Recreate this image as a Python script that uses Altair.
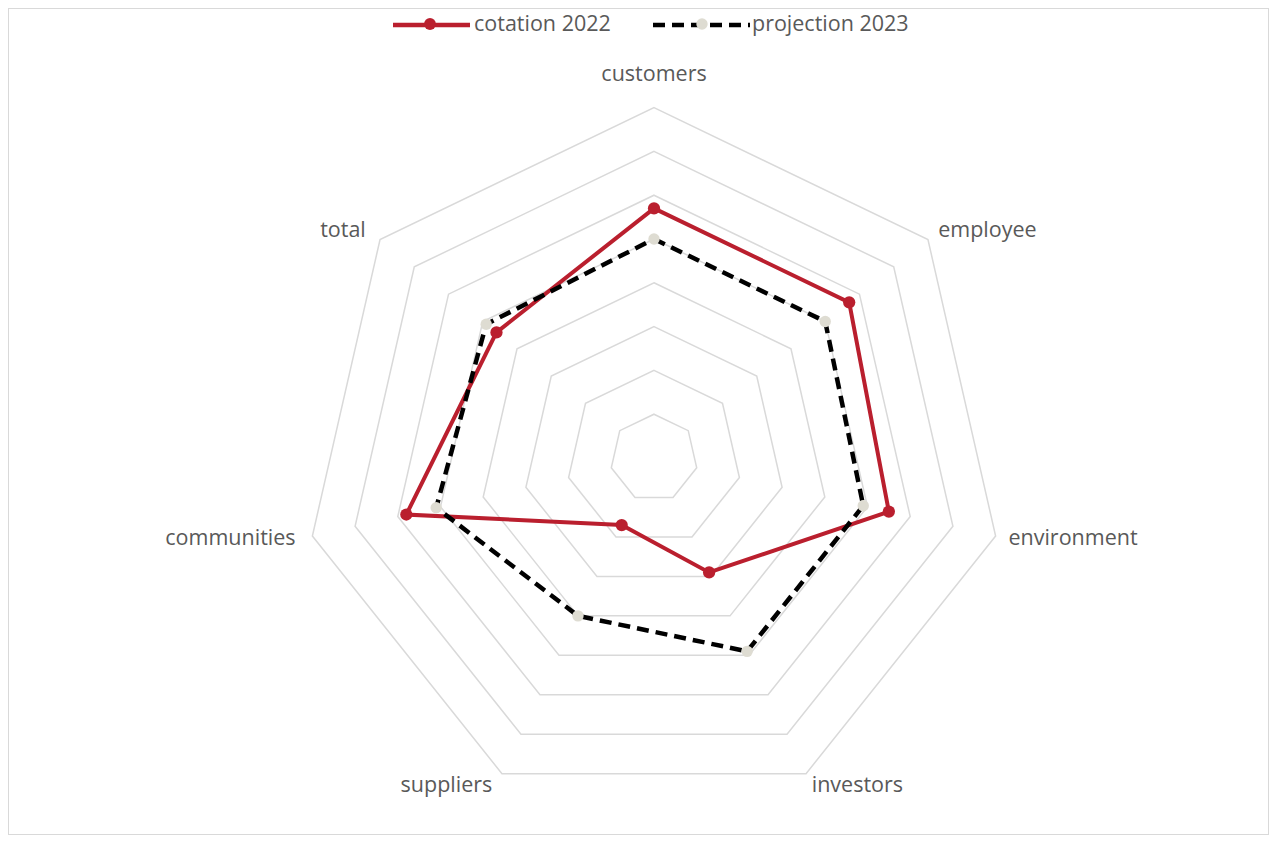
import math
import altair as alt
import pandas as pd

# ---- data ----
categories = ["customers", "employee", "environment", "investors", "suppliers", "communities", "total"]
series_names = ["cotation 2022", "projection 2023"]
cotation_2022 = [5.7, 5.7, 5.5, 2.9, 1.7, 5.8, 4.6]
projection_2023 = [5.0, 5.0, 4.9, 4.9, 4.0, 5.1, 4.9]
ring_levels = [1, 2, 3, 4, 5, 6, 7, 8]

N = len(categories)
RMAX = max(ring_levels)

rows = []
for name, vals in zip(series_names, [cotation_2022, projection_2023]):
    for i, (c, v) in enumerate(zip(categories, vals)):
        rows.append({"series": name, "category": c, "idx": i, "value": v})
df = pd.DataFrame(rows)

rings = pd.DataFrame([{"level": l, "idx": i} for l in ring_levels for i in range(N)])
labels = pd.DataFrame([{"category": c, "idx": i} for i, c in enumerate(categories)])
legend_df = pd.DataFrame({"series": series_names})

# ---- geometry ----
W, H = 1261, 827
CX, CY = 646, 450
S = 43.8  # px per unit
xdom = [-CX / S, (W - CX) / S]
ydom = [-(H - CY) / S, CY / S]

xs = alt.Scale(domain=xdom, nice=False, zero=False)
ys = alt.Scale(domain=ydom, nice=False, zero=False)
X = alt.X("x:Q", scale=xs, axis=None)
Y = alt.Y("y:Q", scale=ys, axis=None)

ang = f"2*PI*datum.idx/{N}"

RED = "#BA1F2E"
BEIGE = "#DEDCD2"

ring_chart = alt.Chart(rings).transform_calculate(
    x=f"datum.level*sin({ang})", y=f"datum.level*cos({ang})"
).mark_line(interpolate="linear-closed", color="#D9D9D9", strokeWidth=1.5).encode(
    x=X, y=Y, detail="level:N", order="idx:Q"
)

def series_layers(name, color, width, dash, pt_fill, pt_size):
    base = alt.Chart(df).transform_filter(alt.datum.series == name).transform_calculate(
        x=f"datum.value*sin({ang})", y=f"datum.value*cos({ang})"
    )
    line_kw = dict(interpolate="linear-closed", color=color, strokeWidth=width)
    if dash:
        line_kw["strokeDash"] = dash
    line = base.mark_line(**line_kw).encode(x=X, y=Y, order="idx:Q")
    pts = base.mark_point(filled=True, fill=pt_fill, size=pt_size, opacity=1, strokeWidth=0).encode(x=X, y=Y)
    return line, pts

red_line, red_pts = series_layers(series_names[0], RED, 4, None, RED, 150)
blk_line, blk_pts = series_layers(series_names[1], "#000000", 4.5, [12, 7], BEIGE, 130)

font = "Open Sans"
tcol = "#595959"
fs = 21.5

lab_base = alt.Chart(labels)
lab_side = lab_base.transform_calculate(
    s=f"sin({ang})",
    x=f"8.3*sin({ang})", y=f"8.3*cos({ang})"
)
lab_right = lab_side.transform_filter("datum.s > 0.1").mark_text(
    align="left", baseline="middle", font=font, fontSize=fs, color=tcol
).encode(x=X, y=Y, text="category:N")
lab_left = lab_side.transform_filter("datum.s < -0.1").mark_text(
    align="right", baseline="middle", font=font, fontSize=fs, color=tcol, dx=-4
).encode(x=X, y=Y, text="category:N")
lab_top = lab_base.transform_calculate(
    s=f"sin({ang})", x=f"8.74*sin({ang})", y=f"8.74*cos({ang})"
).transform_filter("abs(datum.s) <= 0.1").mark_text(
    align="center", baseline="middle", font=font, fontSize=fs, color=tcol
).encode(x=X, y=Y, text="category:N")

# ---- legend ----
leg = alt.Chart(legend_df)
f0 = alt.datum.series == series_names[0]
f1 = alt.datum.series == series_names[1]
leg_red_line = leg.transform_filter(f0).mark_rule(
    color=RED, strokeWidth=4.5).encode(x=alt.value(385), x2=alt.value(462), y=alt.value(17))
leg_red_pt = leg.transform_filter(f0).mark_point(
    filled=True, fill=RED, size=140, opacity=1, strokeWidth=0).encode(x=alt.value(422), y=alt.value(16))
leg_red_txt = leg.transform_filter(f0).mark_text(
    align="left", baseline="middle", font=font, fontSize=fs, color=tcol).encode(
    x=alt.value(466), y=alt.value(17), text="series:N")
leg_blk_line = leg.transform_filter(f1).mark_rule(
    color="#000000", strokeWidth=4.5, strokeDash=[12, 7]).encode(x=alt.value(645), x2=alt.value(742), y=alt.value(17))
leg_blk_pt = leg.transform_filter(f1).mark_point(
    filled=True, fill=BEIGE, size=130, opacity=1, strokeWidth=0).encode(x=alt.value(694), y=alt.value(16))
leg_blk_txt = leg.transform_filter(f1).mark_text(
    align="left", baseline="middle", font=font, fontSize=fs, color=tcol).encode(
    x=alt.value(744), y=alt.value(17), text="series:N")

chart = alt.layer(
    ring_chart, red_line, red_pts, blk_line, blk_pts,
    lab_right, lab_left, lab_top,
    leg_red_line, leg_red_pt, leg_red_txt, leg_blk_line, leg_blk_pt, leg_blk_txt,
).properties(
    width=W, height=H, padding=0,
    autosize=alt.AutoSizeParams(type="fit", contains="padding"),
    background="white",
).configure_view(stroke="#D9D9D9", strokeWidth=2)

chart.save("out.html", embed_options={"renderer": "svg", "actions": False})
